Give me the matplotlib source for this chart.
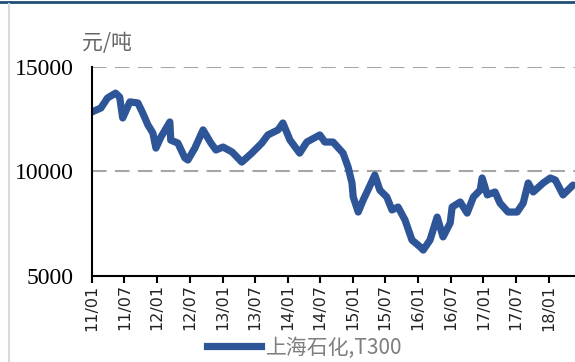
import matplotlib
matplotlib.use('Agg')
import matplotlib.pyplot as plt
import matplotlib.dates as mdates
import pandas as pd
from matplotlib.lines import Line2D

# 上海石化 T300 碳纤维价格（元/吨）
dates = [
    '2011-01-01', '2011-02-20', '2011-03-29', '2011-05-13', '2011-06-05', '2011-06-22',
    '2011-08-01', '2011-09-15', '2011-10-12', '2011-11-10', '2011-12-08', '2011-12-25',
    '2012-01-22', '2012-03-12', '2012-03-17', '2012-04-26', '2012-06-04', '2012-06-21',
    '2012-07-30', '2012-09-14', '2012-10-28', '2012-11-25', '2013-01-04', '2013-02-24',
    '2013-04-19', '2013-06-14', '2013-08-09', '2013-09-12', '2013-11-08', '2013-12-05',
    '2014-01-14', '2014-03-09', '2014-04-18', '2014-06-30', '2014-07-28', '2014-09-12',
    '2014-11-07', '2014-12-05', '2014-12-27', '2015-01-03', '2015-01-31', '2015-02-28',
    '2015-03-26', '2015-05-04', '2015-06-01', '2015-07-10', '2015-08-08', '2015-09-11',
    '2015-10-20', '2015-11-28', '2016-01-13', '2016-01-30', '2016-03-08', '2016-04-17',
    '2016-05-20', '2016-06-29', '2016-07-10', '2016-08-24', '2016-10-02', '2016-11-06',
    '2016-12-14', '2016-12-25', '2017-01-23', '2017-03-07', '2017-04-04', '2017-05-19',
    '2017-07-09', '2017-08-12', '2017-09-09', '2017-10-07', '2017-12-02', '2018-01-11',
    '2018-02-08', '2018-03-23', '2018-05-18',
]
prices = [
    12850, 13040, 13520, 13750, 13560, 12560,
    13330, 13280, 12800, 12230, 11840, 11120,
    11650, 12370, 11500, 11360, 10650, 10550,
    11120, 11990, 11360, 11030, 11170, 10930,
    10450, 10880, 11360, 11750, 11990, 12320,
    11500, 10880, 11410, 11750, 11410, 11410,
    10880, 10220, 9450, 8780, 8060, 8640,
    9110, 9830, 9110, 8780, 8160, 8300,
    7680, 6720, 6390, 6240, 6720, 7820,
    6870, 7540, 8300, 8540, 8010, 8780,
    9110, 9690, 8880, 9020, 8490, 8060,
    8060, 8490, 9450, 9020, 9450, 9690,
    9590, 8880, 9350,
]
yticks = [5000, 10000, 15000]
series_name = '上海石化,T300'
unit = '元/吨'

x = pd.to_datetime(dates)
blue = '#2E5597'

fig = plt.figure(figsize=(5.75, 3.62), dpi=100)
ax = fig.add_axes([0.16, 0.2376, 0.84, 0.5773])

ax.plot(x, prices, color=blue, lw=5.2, solid_capstyle='round', solid_joinstyle='round')

ax.set_ylim(5000, 15000)
ax.set_xlim(pd.Timestamp('2011-01-01'), pd.Timestamp('2018-05-29'))
ax.set_yticks(yticks)
ax.set_yticklabels([str(v) for v in yticks], fontfamily='Liberation Serif', fontsize=17)
ax.tick_params(axis='y', length=0, pad=13)

ax.xaxis.set_major_locator(mdates.MonthLocator(bymonth=[1, 7]))
ax.xaxis.set_major_formatter(mdates.DateFormatter('%y/%m'))
ax.tick_params(axis='x', length=5, width=1.5, pad=1, labelsize=11.5, color='black')
for lbl in ax.get_xticklabels():
    lbl.set_rotation(90)
    lbl.set_fontfamily('DejaVu Sans')
    lbl.set_color('#222222')

for v in [10000, 15000]:
    ax.axhline(v, color='#A6A6A6', lw=1.5, dashes=(7, 4), zorder=0)

ax.spines['top'].set_visible(False)
ax.spines['right'].set_visible(False)
ax.spines['left'].set_linewidth(1.5)
ax.spines['bottom'].set_linewidth(1.5)

fig.text(0.143, 0.88, unit, fontfamily=['Noto Sans CJK SC', 'DejaVu Sans'],
         fontsize=15, color='#666666', ha='left', va='center')

handle = Line2D([], [], color=blue, lw=5.2)
fig.legend([handle], [series_name], loc='center', bbox_to_anchor=(0.53, 0.04),
           frameon=False, handlelength=2.6, handletextpad=0.25,
           prop={'family': ['Noto Sans CJK SC', 'DejaVu Sans'], 'size': 15},
           labelcolor='#7F7F7F')

# 顶部深蓝色边线与左侧浅灰竖线
fig.add_artist(Line2D([0, 1], [0.995, 0.995], color='#1F4E79', lw=2, transform=fig.transFigure))
fig.add_artist(Line2D([0.015, 0.015], [0, 0.99], color='#D9D9D9', lw=1.5, transform=fig.transFigure))

fig.savefig('out.png', dpi=100)
